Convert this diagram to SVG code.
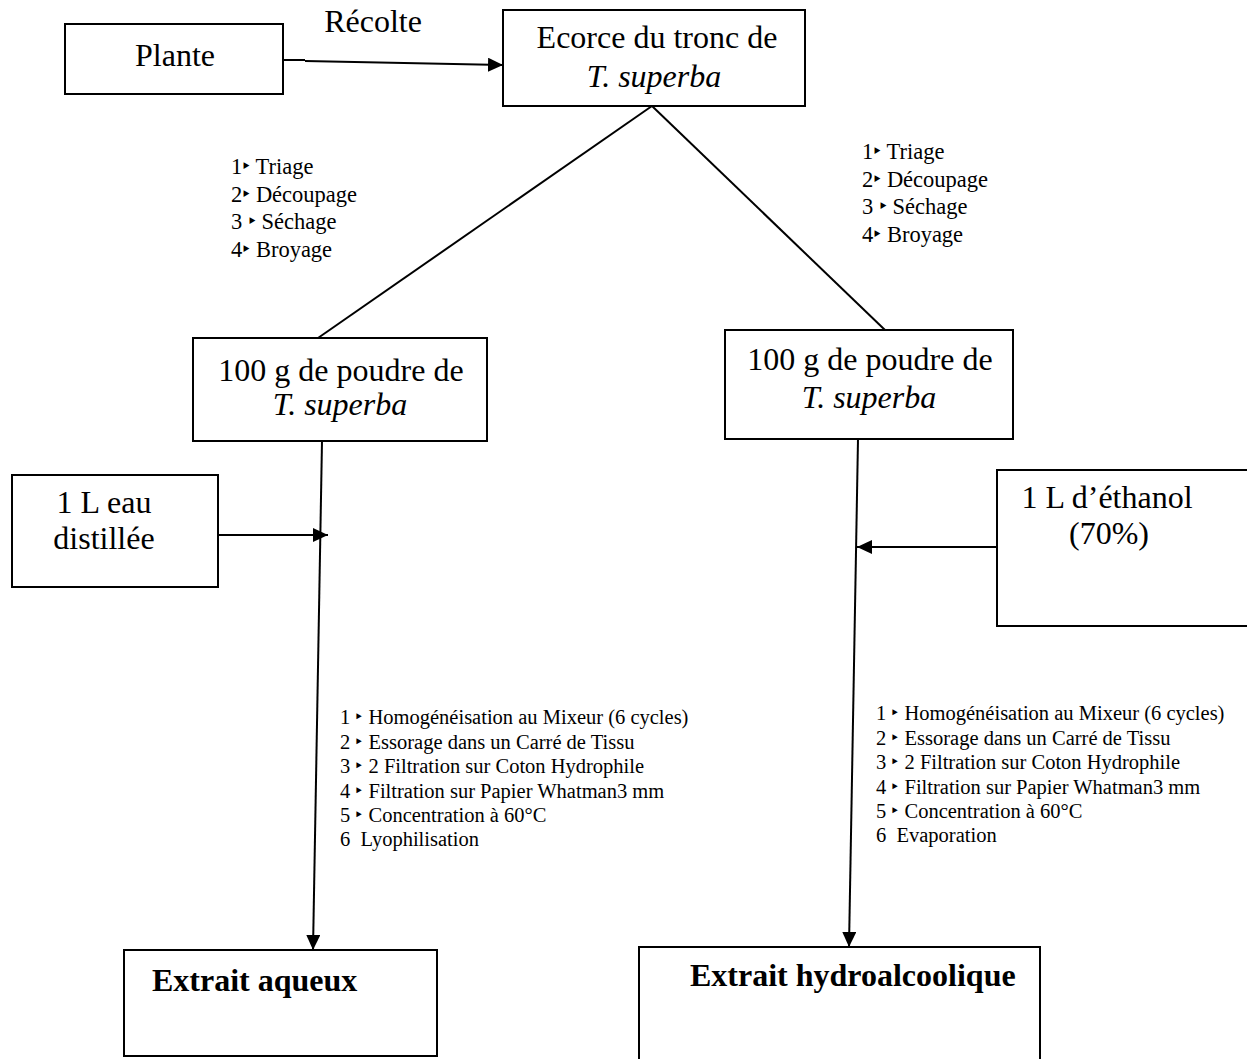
<svg xmlns="http://www.w3.org/2000/svg" width="1247" height="1059" viewBox="0 0 1247 1059">
<defs>
<marker id="arr" viewBox="0 0 15 14" refX="15" refY="7" markerWidth="15" markerHeight="14" markerUnits="userSpaceOnUse" orient="auto">
<path d="M0,0 L15,7 L0,14 z" fill="#000"/>
</marker>
<style>
.box{fill:#fff;stroke:#000;stroke-width:2}
.t{font-family:"Liberation Serif","Times New Roman",serif;fill:#000}
.big{font-size:32px}
.it{font-style:italic}
.mid{font-size:22.5px}
.sm{font-size:20.5px}
.b{font-size:32px;font-weight:bold}
.ln{stroke:#000;stroke-width:2;fill:none}
</style>
</defs>
<rect width="1247" height="1059" fill="#fff"/>
<g id="connectors">
<polyline class="ln" points="283,60 305,60"/>
<line class="ln" x1="305" y1="61" x2="503" y2="65" marker-end="url(#arr)"/>
<line class="ln" x1="652" y1="106" x2="318" y2="338"/>
<line class="ln" x1="652" y1="106" x2="885" y2="330"/>
<line class="ln" x1="322" y1="441" x2="313" y2="950" marker-end="url(#arr)"/>
<line class="ln" x1="218" y1="535" x2="328" y2="535" marker-end="url(#arr)"/>
<line class="ln" x1="858" y1="439" x2="849" y2="947" marker-end="url(#arr)"/>
<line class="ln" x1="997" y1="547" x2="857" y2="547" marker-end="url(#arr)"/>
</g>
<g id="label-recolte"><text class="t big" x="373" y="32" text-anchor="middle">Récolte</text></g>
<g id="node-plante">
<rect class="box" x="65" y="24" width="218" height="70"/>
<text class="t big" x="175" y="66" text-anchor="middle">Plante</text>
</g>
<g id="node-ecorce">
<rect class="box" x="503" y="10" width="302" height="96"/>
<text class="t big" x="657" y="48" text-anchor="middle">Ecorce du tronc de</text>
<text class="t big it" x="654" y="87" text-anchor="middle">T. superba</text>
</g>
<g id="steps-left" class="t mid">
<text x="231" y="174">1‣ Triage</text>
<text x="231" y="202">2‣ Découpage</text>
<text x="231" y="229">3 ‣ Séchage</text>
<text x="231" y="257">4‣ Broyage</text>
</g>
<g id="steps-right" class="t mid">
<text x="862" y="159">1‣ Triage</text>
<text x="862" y="187">2‣ Découpage</text>
<text x="862" y="214">3 ‣ Séchage</text>
<text x="862" y="242">4‣ Broyage</text>
</g>
<g id="node-poudre-left">
<rect class="box" x="193" y="338" width="294" height="103"/>
<text class="t big" x="341" y="381" text-anchor="middle">100 g de poudre de</text>
<text class="t big it" x="340" y="415" text-anchor="middle">T. superba</text>
</g>
<g id="node-poudre-right">
<rect class="box" x="725" y="330" width="288" height="109"/>
<text class="t big" x="870" y="370" text-anchor="middle">100 g de poudre de</text>
<text class="t big it" x="869" y="408" text-anchor="middle">T. superba</text>
</g>
<g id="node-eau">
<rect class="box" x="12" y="475" width="206" height="112"/>
<text class="t big" x="104" y="513" text-anchor="middle">1 L eau</text>
<text class="t big" x="104" y="549" text-anchor="middle">distillée</text>
</g>
<g id="node-ethanol">
<rect class="box" x="997" y="470" width="260" height="156"/>
<text class="t big" x="1107" y="508" text-anchor="middle">1 L d’éthanol</text>
<text class="t big" x="1109" y="544" text-anchor="middle">(70%)</text>
</g>
<g id="process-left" class="t sm">
<text x="340" y="724">1 ‣ Homogénéisation au Mixeur (6 cycles)</text>
<text x="340" y="749">2 ‣ Essorage dans un Carré de Tissu</text>
<text x="340" y="773">3 ‣ 2 Filtration sur Coton Hydrophile</text>
<text x="340" y="798">4 ‣ Filtration sur Papier Whatman3 mm</text>
<text x="340" y="822">5 ‣ Concentration à 60°C</text>
<text x="340" y="846" xml:space="preserve">6  Lyophilisation</text>
</g>
<g id="process-right" class="t sm">
<text x="876" y="720">1 ‣ Homogénéisation au Mixeur (6 cycles)</text>
<text x="876" y="745">2 ‣ Essorage dans un Carré de Tissu</text>
<text x="876" y="769">3 ‣ 2 Filtration sur Coton Hydrophile</text>
<text x="876" y="794">4 ‣ Filtration sur Papier Whatman3 mm</text>
<text x="876" y="818">5 ‣ Concentration à 60°C</text>
<text x="876" y="842" xml:space="preserve">6  Evaporation</text>
</g>
<g id="node-aqueux">
<rect class="box" x="124" y="950" width="313" height="106"/>
<text class="t b" x="152" y="991">Extrait aqueux</text>
</g>
<g id="node-hydro">
<rect class="box" x="639" y="947" width="401" height="120"/>
<text class="t b" x="690" y="986">Extrait hydroalcoolique</text>
</g>
</svg>
